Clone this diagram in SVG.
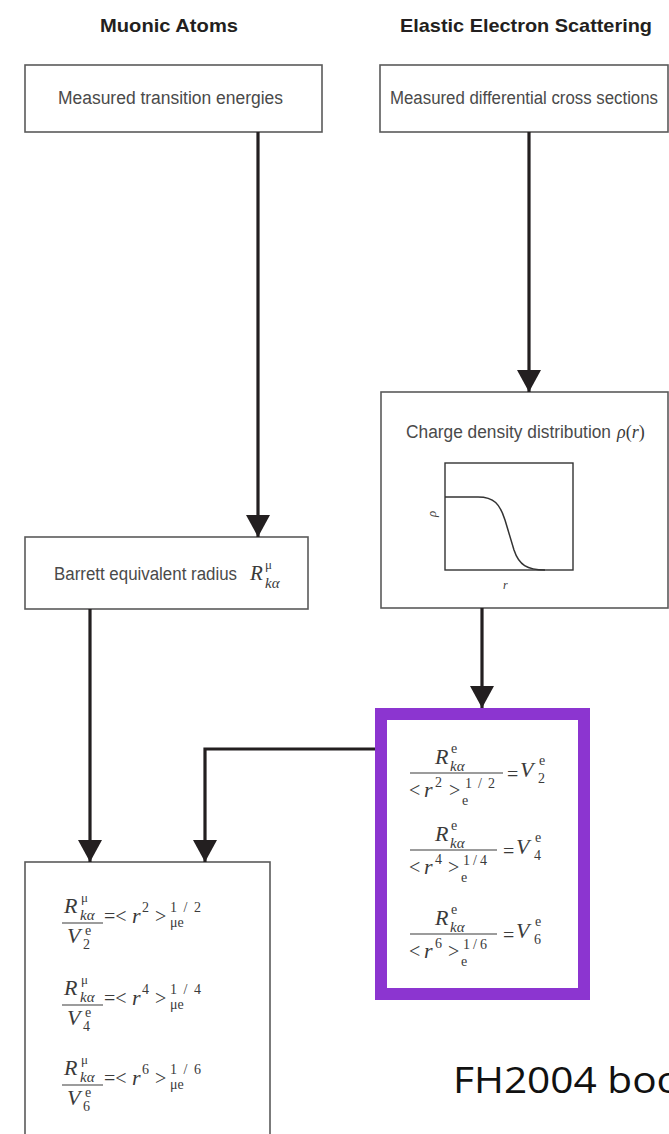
<svg xmlns="http://www.w3.org/2000/svg" width="669" height="1134" viewBox="0 0 669 1134">
<style>
.box{fill:#fff;stroke:#5a5a5a;stroke-width:1.6}
.hdr{font-family:"Liberation Sans Narrow","Liberation Sans",sans-serif;font-weight:bold;font-size:19px;fill:#231f20}
.lbl{font-family:"Liberation Sans Narrow","Liberation Sans",sans-serif;font-size:18px;fill:#4a4a4a}
.m{font-family:"Liberation Serif",serif;fill:#3a3a3a}
.mi{font-family:"Liberation Serif",serif;font-style:italic;fill:#3a3a3a}
.big{font-size:22px}
.op{font-size:20px}
.sc{font-size:14px}
.fl{stroke:#3a3a3a;stroke-width:1.1}
.con{fill:none;stroke:#231f20;stroke-width:3.2;marker-end:url(#ah)}
.note{font-family:"Open Sans","Noto Sans",sans-serif;font-size:37px;fill:#111}
</style>
<defs>
<marker id="ah" markerUnits="userSpaceOnUse" markerWidth="22" markerHeight="24" refX="22" refY="12" orient="auto">
<path d="M0,0 L22,12 L0,24 Z" fill="#231f20"/>
</marker>
</defs>
<g id="headers">
<text class="hdr" x="100" y="32" textLength="138" lengthAdjust="spacingAndGlyphs">Muonic Atoms</text>
<text class="hdr" x="400" y="32" textLength="252" lengthAdjust="spacingAndGlyphs">Elastic Electron Scattering</text>
</g>
<g id="transition">
<rect class="box" x="25" y="65" width="297" height="67"/>
<text class="lbl" x="58" y="104" textLength="225" lengthAdjust="spacingAndGlyphs">Measured transition energies</text>
</g>
<g id="crosssections">
<rect class="box" x="380" y="65" width="288" height="67"/>
<text class="lbl" x="390" y="104" textLength="268" lengthAdjust="spacingAndGlyphs">Measured differential cross sections</text>
</g>
<g id="barrett">
<rect class="box" x="25" y="537" width="283" height="72"/>
<text class="lbl" x="54" y="580" textLength="183" lengthAdjust="spacingAndGlyphs">Barrett equivalent radius</text>
<text class="mi" x="250" y="580" font-size="21">R</text>
<text class="m" x="265" y="569" font-size="13">μ</text>
<text class="mi" x="265" y="588" font-size="15">kα</text>
</g>
<g id="chargedensity">
<rect class="box" x="381" y="392" width="287" height="216"/>
<text class="lbl" x="406" y="438" textLength="205" lengthAdjust="spacingAndGlyphs">Charge density distribution</text>
<text class="mi" x="617" y="438" font-size="18">ρ<tspan font-style="normal">(</tspan>r<tspan font-style="normal">)</tspan></text>
<rect x="445" y="463" width="128" height="107" fill="none" stroke="#333" stroke-width="1.4"/>
<path d="M445,497 L478,497 C494,497 500,504 505,520 L514,550 C519,565 527,570 545,570" fill="none" stroke="#333" stroke-width="1.5"/>
<text class="mi" x="0" y="0" font-size="13" transform="translate(436,517) rotate(-90)">ρ</text>
<text class="mi" x="503" y="589" font-size="12">r</text>
</g>
<g id="electronmoments">
<rect x="381" y="714" width="203" height="280" fill="#fff" stroke="#8c35d0" stroke-width="12"/>
<g>
<text class="mi big" x="435" y="764">R</text>
<text class="m sc" x="451" y="753">e</text>
<text class="mi" x="450" y="771" font-size="15">kα</text>
<line class="fl" x1="410" y1="773" x2="503" y2="773"/>
<text class="m op" x="409" y="797">&lt;</text>
<text class="mi big" x="424" y="797">r</text>
<text class="m sc" x="435" y="787">2</text>
<text class="m op" x="449" y="797">&gt;</text>
<text class="m sc" x="465" y="788" textLength="30" lengthAdjust="spacing">1/2</text>
<text class="m sc" x="462" y="805">e</text>
<text class="m op" x="507" y="781">=</text>
<text class="mi big" x="520" y="777">V</text>
<text class="m sc" x="539" y="765">e</text>
<text class="m sc" x="538" y="783">2</text>
</g>
<g>
<text class="mi big" x="435" y="841">R</text>
<text class="m sc" x="451" y="830">e</text>
<text class="mi" x="450" y="848" font-size="15">kα</text>
<line class="fl" x1="410" y1="850" x2="497" y2="850"/>
<text class="m op" x="409" y="874">&lt;</text>
<text class="mi big" x="424" y="874">r</text>
<text class="m sc" x="435" y="864">4</text>
<text class="m op" x="448" y="874">&gt;</text>
<text class="m sc" x="463" y="865" textLength="24" lengthAdjust="spacing">1/4</text>
<text class="m sc" x="461" y="882">e</text>
<text class="m op" x="503" y="858">=</text>
<text class="mi big" x="516" y="854">V</text>
<text class="m sc" x="535" y="842">e</text>
<text class="m sc" x="534" y="860">4</text>
</g>
<g>
<text class="mi big" x="435" y="925">R</text>
<text class="m sc" x="451" y="914">e</text>
<text class="mi" x="450" y="932" font-size="15">kα</text>
<line class="fl" x1="410" y1="934" x2="497" y2="934"/>
<text class="m op" x="409" y="958">&lt;</text>
<text class="mi big" x="424" y="958">r</text>
<text class="m sc" x="435" y="948">6</text>
<text class="m op" x="448" y="958">&gt;</text>
<text class="m sc" x="463" y="949" textLength="24" lengthAdjust="spacing">1/6</text>
<text class="m sc" x="461" y="966">e</text>
<text class="m op" x="503" y="942">=</text>
<text class="mi big" x="516" y="938">V</text>
<text class="m sc" x="535" y="926">e</text>
<text class="m sc" x="534" y="944">6</text>
</g>
</g>
<g id="muonicmoments">
<rect class="box" x="25" y="862" width="245" height="300"/>
<g>
<text class="mi big" x="64" y="913">R</text>
<text class="m" x="81" y="902" font-size="13">μ</text>
<text class="mi" x="80" y="920" font-size="15">kα</text>
<line class="fl" x1="62" y1="923" x2="103" y2="923"/>
<text class="mi big" x="67" y="943">V</text>
<text class="m sc" x="85" y="935">e</text>
<text class="m sc" x="83" y="949">2</text>
<text class="m op" x="104" y="923">=&lt;</text>
<text class="mi big" x="132" y="923">r</text>
<text class="m sc" x="142" y="912">2</text>
<text class="m op" x="155" y="923">&gt;</text>
<text class="m sc" x="170" y="912" textLength="31" lengthAdjust="spacing">1/2</text>
<text class="m sc" x="170" y="927">μe</text>
</g>
<g>
<text class="mi big" x="64" y="995">R</text>
<text class="m" x="81" y="984" font-size="13">μ</text>
<text class="mi" x="80" y="1002" font-size="15">kα</text>
<line class="fl" x1="62" y1="1005" x2="103" y2="1005"/>
<text class="mi big" x="67" y="1025">V</text>
<text class="m sc" x="85" y="1017">e</text>
<text class="m sc" x="83" y="1031">4</text>
<text class="m op" x="104" y="1005">=&lt;</text>
<text class="mi big" x="132" y="1005">r</text>
<text class="m sc" x="142" y="994">4</text>
<text class="m op" x="155" y="1005">&gt;</text>
<text class="m sc" x="170" y="994" textLength="31" lengthAdjust="spacing">1/4</text>
<text class="m sc" x="170" y="1009">μe</text>
</g>
<g>
<text class="mi big" x="64" y="1075">R</text>
<text class="m" x="81" y="1064" font-size="13">μ</text>
<text class="mi" x="80" y="1082" font-size="15">kα</text>
<line class="fl" x1="62" y1="1085" x2="103" y2="1085"/>
<text class="mi big" x="67" y="1105">V</text>
<text class="m sc" x="85" y="1097">e</text>
<text class="m sc" x="83" y="1111">6</text>
<text class="m op" x="104" y="1085">=&lt;</text>
<text class="mi big" x="132" y="1085">r</text>
<text class="m sc" x="142" y="1074">6</text>
<text class="m op" x="155" y="1085">&gt;</text>
<text class="m sc" x="170" y="1074" textLength="31" lengthAdjust="spacing">1/6</text>
<text class="m sc" x="170" y="1089">μe</text>
</g>
</g>
<g id="connectors">
<path class="con" d="M258,132 V537"/>
<path class="con" d="M529,132 V392"/>
<path class="con" d="M482,608 V708"/>
<path class="con" d="M375,749 H205 V862"/>
<path class="con" d="M90,609 V862"/>
</g>
<g id="note">
<text class="note" x="453" y="1093" textLength="228" lengthAdjust="spacingAndGlyphs">FH2004 boo</text>
</g>
</svg>
